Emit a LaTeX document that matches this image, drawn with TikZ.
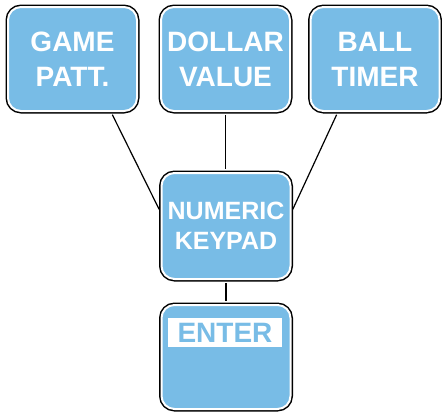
\documentclass[tikz,border=0pt]{standalone}
\usepackage{fontspec}
\setmainfont{Liberation Sans}
\usepackage{xcolor}
\usepackage{tikz}
\usetikzlibrary{calc}

\definecolor{keyblue}{RGB}{120,188,230}

\begin{document}
\begin{tikzpicture}[
    x=1pt, y=-1pt,
    key/.style={draw=white, line width=2pt, fill=keyblue, rounded corners=13pt,
        preaction={draw=black, line width=5pt},
        minimum width=129pt, minimum height=104pt, inner sep=0pt,
        align=center, text=white, font=\bfseries\fontsize{28}{35}\selectfont},
    wire/.style={line width=1.2pt, black, shorten <=3pt, shorten >=3pt}
]
\useasboundingbox (0,0) rectangle (442,413);

% Top row
\node[key] (game) at (72.5, 59) {GAME\\PATT.};
\node[key] (dollar) at (225.5, 59) {DOLLAR\\VALUE};
\node[key] (ball) at (375, 59) {BALL\\TIMER};

% Keypad
\node[key, minimum height=106pt, font=\bfseries\fontsize{25}{30}\selectfont] (keypad) at (226, 226) {NUMERIC\\KEYPAD};

% Enter
\node[key] (enter) at (226, 357) {};
\node[fill=white, text=keyblue, minimum width=114pt, minimum height=29pt, inner sep=0pt,
      font=\bfseries\fontsize{28}{35}\selectfont] (enterlabel) at (225, 332.5) {ENTER};

% Wires
\draw[wire] (game.-54) -- (keypad.168);
\draw[wire] (dollar.south) -- (dollar.south |- keypad.north);
\draw[wire] (ball.-125) -- (keypad.12);
\draw[wire] (keypad.south) -- (enter.north);

\end{tikzpicture}
\end{document}
